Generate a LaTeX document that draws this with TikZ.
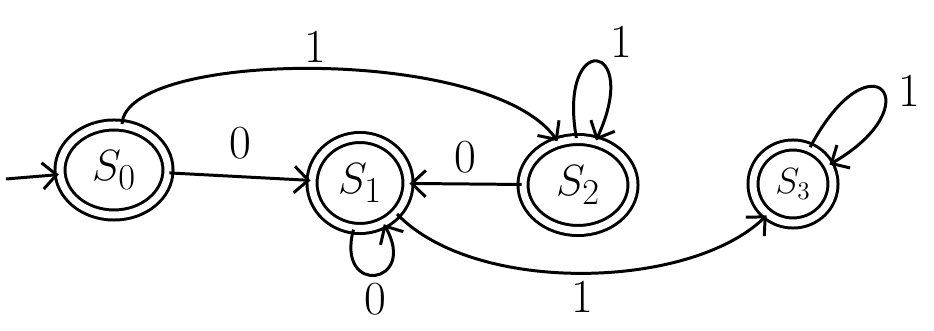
\documentclass[tikz,border=0pt]{standalone}
\usetikzlibrary{shapes.geometric, arrows.meta, positioning, calc}
\begin{document}
\begin{tikzpicture}[
  state/.style={ellipse, draw, double, double distance=4pt, line width=1.7pt, inner sep=0pt, font=\Huge},
  lbl/.style={inner sep=1pt, font=\fontsize{27}{30}\selectfont},
  trans/.style={-{Straight Barb[length=8pt,width=15pt,line width=1.7pt]}, line width=1.7pt}
]
  \useasboundingbox (0,0) rectangle (18.68,-6.62);
  \node[state, minimum width=2.16cm, minimum height=1.8cm] (s0) at (2.28,-3.4) {$S_0$};
  \node[state, minimum width=1.92cm, minimum height=1.82cm] (s1) at (7.2,-3.66) {$S_1$};
  \node[state, minimum width=2.2cm, minimum height=1.82cm] (s2) at (11.56,-3.7) {$S_2$};
  \node[state, minimum width=1.6cm, minimum height=1.56cm, font=\huge] (s3) at (15.86,-3.68) {$S_3$};
  \coordinate (start) at (0.12,-3.58);

  \draw[trans] (start) -- (s0);
  \draw[trans] (s0.80) .. controls (2.5,-1.0) and (9.8,-0.9) .. node[lbl, above=2pt] {1} (s2.115);
  \draw[trans] (s0) -- node[lbl, above=8pt] {0} (s1);
  \draw[trans] (s2) -- node[lbl, above=4pt] {0} (s1);
  \draw[trans] (s1.262) .. controls +(255:1.4) and +(-60:1.4) .. node[lbl, below=3pt] {0} (s1.300);
  \draw[trans] (s1.320) .. controls (9.5,-5.9) and (13.8,-5.8) .. node[lbl, below=3pt] {1} (s3.230);
  \draw[trans] (s2.92) .. controls +(100:2.2) and +(65:2.2) .. node[lbl, above right=0pt and 6pt] {1} (s2.68);
  \draw[trans] (s3.65) .. controls +(62:2.6) and +(30:2.4) .. node[lbl, right=8pt] {1} (s3.28);
\end{tikzpicture}
\end{document}
